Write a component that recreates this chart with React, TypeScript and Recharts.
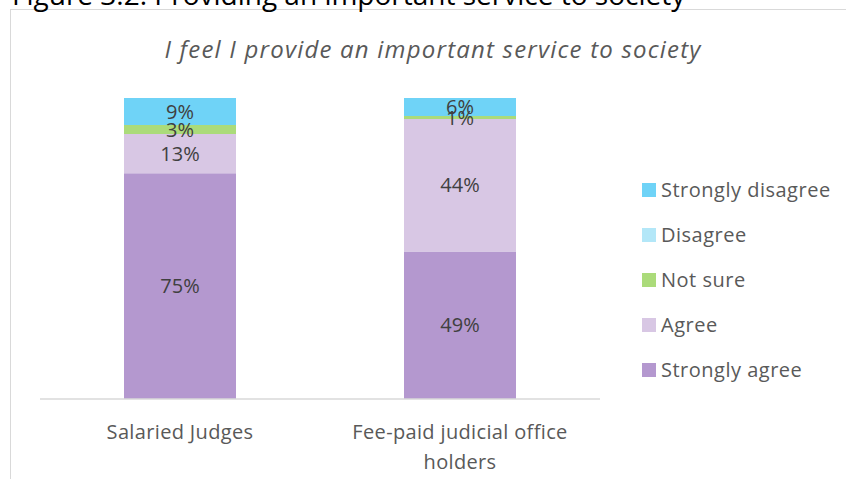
import React from "react";
import { BarChart, Bar, XAxis, YAxis, LabelList, Text } from "recharts";

const categories = ["Salaried Judges", "Fee-paid judicial office holders"];
const stronglyAgree = [75, 49];
const agree = [13, 44];
const notSure = [3, 1];
const disagree = [0, 0];
const stronglyDisagree = [9, 6];

const seriesNames = ["Strongly agree", "Agree", "Not sure", "Disagree", "Strongly disagree"];
const seriesKeys = ["stronglyAgree", "agree", "notSure", "disagree", "stronglyDisagree"];
const seriesColors = ["#B498CF", "#D8C7E4", "#ABDB7A", "#B3E7F8", "#6FD3F7"];

const data = categories.map((name, i) => ({
  name,
  stronglyAgree: stronglyAgree[i],
  agree: agree[i],
  notSure: notSure[i],
  disagree: disagree[i],
  stronglyDisagree: stronglyDisagree[i],
}));

const FONT = "'Open Sans', 'Noto Sans', sans-serif";

function CategoryTick(props: any) {
  const { x, y, payload } = props;
  return (
    <Text
      x={x}
      y={y + 18}
      width={200}
      textAnchor="middle"
      verticalAnchor="start"
      lineHeight={30}
      fill="#595959"
      style={{ fontSize: 20, fontFamily: FONT, letterSpacing: 0.35 }}
    >
      {payload.value}
    </Text>
  );
}

const pct = (v: any) => (v ? `${v}%` : "");

export default function App() {
  const legendItems = seriesNames.map((n, i) => ({ n, c: seriesColors[i] })).reverse();
  return (
    <div
      style={{
        position: "absolute",
        left: 0,
        top: 0,
        width: 846,
        height: 479,
        overflow: "hidden",
        background: "#fff",
        fontFamily: FONT,
      }}
    >
      <div
        style={{
          position: "absolute",
          left: 10,
          top: 9,
          width: 900,
          height: 500,
          borderLeft: "1.5px solid #D9D9D9",
          borderTop: "1.5px solid #D9D9D9",
        }}
      />
      <div
        style={{
          position: "absolute",
          left: 12,
          top: -25,
          fontSize: 28,
          lineHeight: "38px",
          color: "#000",
          whiteSpace: "nowrap",
        }}
      >
        Figure 3.2: Providing an important service to society
      </div>
      <div
        style={{
          position: "absolute",
          left: 10,
          width: 846,
          top: 34,
          textAlign: "center",
          fontSize: 24,
          letterSpacing: 1.2,
          lineHeight: "30px",
          fontStyle: "italic",
          color: "#595959",
        }}
      >
        I feel I provide an important service to society
      </div>
      <div style={{ position: "absolute", left: 0, top: 0 }}>
        <BarChart
          width={846}
          height={479}
          data={data}
          margin={{ top: 98, right: 246, left: 40, bottom: 0 }}
          barCategoryGap="30%"
        >
          <XAxis
            dataKey="name"
            height={80}
            axisLine={{ stroke: "#D9D9D9", strokeWidth: 1.5 }}
            tickLine={false}
            tick={<CategoryTick />}
            interval={0}
          />
          <YAxis hide domain={[0, 100]} />
          {seriesKeys.map((k, i) => (
            <Bar
              key={k}
              dataKey={k}
              name={seriesNames[i]}
              stackId="a"
              fill={seriesColors[i]}
              isAnimationActive={false}
            >
              <LabelList
                dataKey={k}
                position="center"
                formatter={pct}
                fill="#404040"
                fontSize={20}
                fontFamily={FONT}
              />
            </Bar>
          ))}
        </BarChart>
      </div>
      <div style={{ position: "absolute", left: 642, top: 167 }}>
        {legendItems.map((it) => (
          <div key={it.n} style={{ display: "flex", alignItems: "center", height: 45 }}>
            <span style={{ width: 14, height: 14, background: it.c, marginRight: 5 }} />
            <span style={{ fontSize: 20, letterSpacing: 0.5, color: "#595959" }}>{it.n}</span>
          </div>
        ))}
      </div>
    </div>
  );
}
